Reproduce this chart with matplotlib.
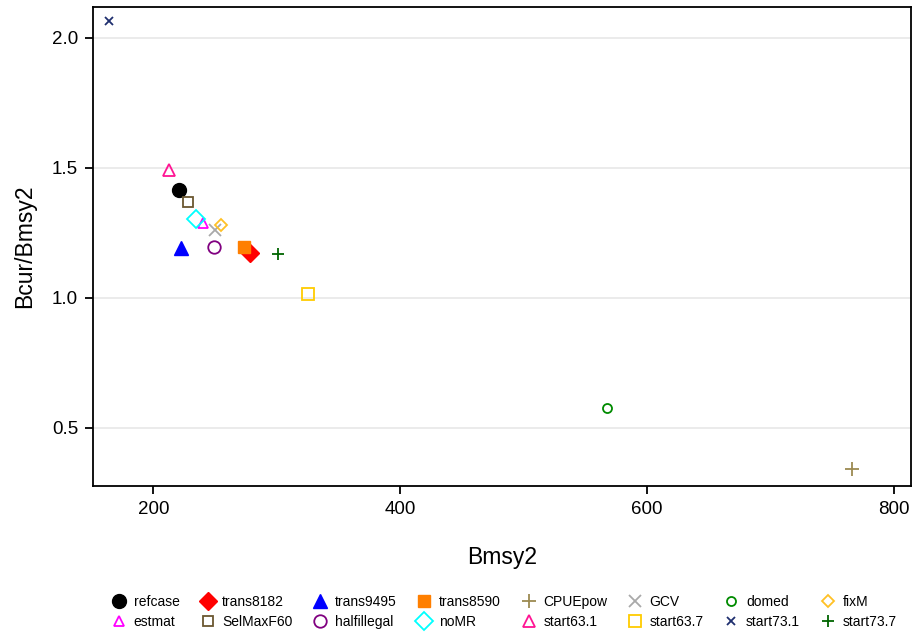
import matplotlib
matplotlib.use("Agg")
import matplotlib.pyplot as plt

plt.rcParams['font.family'] = ['Liberation Sans', 'DejaVu Sans']

names = ["refcase", "trans8182", "trans9495", "trans8590", "CPUEpow", "GCV", "domed", "fixM",
         "estmat", "SelMaxF60", "halfillegal", "noMR", "start63.1", "start63.7", "start73.1", "start73.7"]
bmsy2 = [221.1, 278.3, 222.7, 273.2, 765.7, 250.2, 567.8, 254.8,
         240.5, 228.1, 248.9, 234.3, 213.0, 325.3, 164.1, 301.0]
bcur_bmsy2 = [1.413, 1.171, 1.190, 1.194, 0.340, 1.260, 0.575, 1.280,
              1.288, 1.368, 1.196, 1.3015, 1.491, 1.014, 2.063, 1.168]

colors = ["#000000", "#FF0000", "#0000FF", "#FF7F00", "#9C8A52", "#A9A9A9", "#008B00", "#FFC125",
          "#FF00FF", "#6B5730", "#800080", "#00FFFF", "#FF1493", "#FFCC00", "#1F2F6F", "#006400"]
markers = ["o", "D", "^", "s", "+", "x", "o", "D",
           "^", "s", "o", "D", "^", "s", "x", "+"]
filled = [True, True, True, True, False, False, False, False,
          False, False, False, False, False, False, False, False]
msizes = [10, 9, 9.5, 8.5, 10, 8, 6.5, 6.5,
          6.5, 6.5, 9, 9, 9, 8.5, 5.5, 8]

fig = plt.figure(figsize=(9.14, 6.37), dpi=100)
ax = fig.add_axes([0.1021, 0.2375, 0.8946, 0.752])

handles = []
for n, x, y, c, m, f, s in zip(names, bmsy2, bcur_bmsy2, colors, markers, filled, msizes):
    h, = ax.plot([x], [y], linestyle='none', marker=m, markersize=s,
                 markerfacecolor=(c if f else 'none'), markeredgecolor=c,
                 markeredgewidth=(1.0 if f else 1.3), label=n, color=c)
    handles.append(h)

ax.set_xlim(151.4, 813.8)
ax.set_ylim(0.277, 2.119)
ax.set_xticks([200, 400, 600, 800])
ax.set_yticks([0.5, 1.0, 1.5, 2.0])
ax.set_yticklabels(["0.5", "1.0", "1.5", "2.0"])
ax.yaxis.grid(True, color="#E8E8E8", linewidth=1.2)
ax.set_axisbelow(True)
for sp in ax.spines.values():
    sp.set_linewidth(1.3)
    sp.set_color('black')
ax.tick_params(axis='both', direction='out', length=6, width=1.3, labelsize=13.5, pad=5)
ax.set_xlabel("Bmsy2", fontsize=16.5, labelpad=20)
ax.set_ylabel("Bcur/Bmsy2", fontsize=16.5, labelpad=11)

# legend: 2 rows x 8 cols, filled column-major
order = []
for i in range(8):
    order.append(handles[i])
    order.append(handles[i + 8])
fig.legend(handles=order, labels=[h.get_label() for h in order], ncol=8,
           loc='center', bbox_to_anchor=(0.55, 0.0395), frameon=False,
           fontsize=10, columnspacing=1.25, handletextpad=0.3, handlelength=1.5,
           labelspacing=0.45)

fig.savefig("out.png", dpi=100)
